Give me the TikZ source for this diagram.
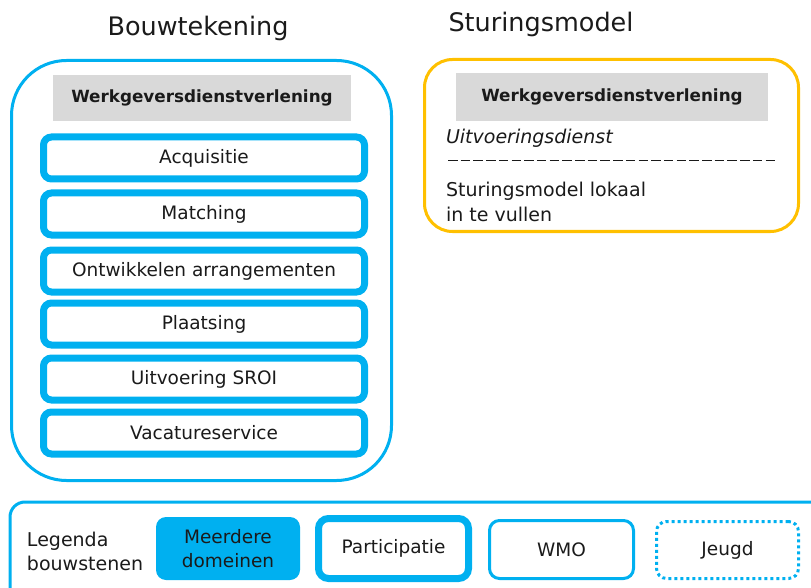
\documentclass[tikz,border=0pt]{standalone}
\usepackage{fontspec}
\setmainfont{DejaVu Sans}
\definecolor{cyanb}{HTML}{00B0F0}
\definecolor{orng}{HTML}{FFC000}
\definecolor{lgray}{HTML}{D9D9D9}
\definecolor{txt}{HTML}{1A1A1A}
\tikzset{
  every node/.style={text=txt, inner sep=0pt, outer sep=0pt},
  thickbox/.style={draw=cyanb, line width=7pt, rounded corners=8pt, minimum width=321pt, minimum height=42pt, font=\fontsize{18.5}{22}\selectfont},
  hdr/.style={fill=lgray, font=\bfseries\fontsize{16.8}{20}\selectfont},
  lbl/.style={font=\fontsize{18.5}{24}\selectfont, align=center},
}
\begin{document}
\begin{tikzpicture}[x=1pt,y=-1pt]
\useasboundingbox (0,0) rectangle (811,588);
\clip (0,0) rectangle (811,588);
% titles
\node[font=\fontsize{25.5}{30}\selectfont] (t1) at (198,28) {Bouwtekening};
\node[font=\fontsize{25.5}{30}\selectfont] (t2) at (541,24) {Sturingsmodel};
% left big box
\node[draw=cyanb, line width=3pt, rounded corners=55pt, minimum width=380pt, minimum height=420pt] (bouw) at (201.5,270.5) {};
\node[hdr, minimum width=298pt, minimum height=46pt] (h1) at (202,98) {Werkgeversdienstverlening};
\node[thickbox] (b1) at (204,158) {Acquisitie};
\node[thickbox] (b2) at (204,214) {Matching};
\node[thickbox] (b3) at (204,271) {Ontwikkelen arrangementen};
\node[thickbox] (b4) at (204,324) {Plaatsing};
\node[thickbox] (b5) at (204,379) {Uitvoering SROI};
\node[thickbox] (b6) at (204,433) {Vacatureservice};
% right box
\node[draw=orng, line width=3pt, rounded corners=28pt, minimum width=374pt, minimum height=172pt] (stur) at (611.5,145.5) {};
\node[hdr, minimum width=312pt, minimum height=48pt] (h2) at (612,97) {Werkgeversdienstverlening};
\node[anchor=west, font=\itshape\fontsize{19}{22}\selectfont] (ud) at (446,138) {Uitvoeringsdienst};
\coordinate (dl) at (448,160);
\coordinate (dr) at (778,160);
\draw[txt, line width=0.8pt, dash pattern=on 9.5pt off 3.2pt] (dl) -- (dr);
\node[anchor=west, align=left, font=\fontsize{19}{25}\selectfont] (sl) at (446,201.5) {Sturingsmodel lokaal\\in te vullen};
% legend
\node[draw=cyanb, line width=3pt, rounded corners=15pt, minimum width=820pt, minimum height=110pt, anchor=north west] (leg) at (10,502) {};
\node[anchor=west, align=left, font=\fontsize{19}{24}\selectfont] (ll) at (27,551) {Legenda\\bouwstenen};
\node[fill=cyanb, rounded corners=10pt, minimum width=144pt, minimum height=63pt, lbl] (md) at (228,548.5) {Meerdere\\domeinen};
\node[draw=cyanb, line width=7pt, rounded corners=10pt, minimum width=150pt, minimum height=60pt, lbl] (pa) at (393.5,548.5) {Participatie};
\node[draw=cyanb, line width=3pt, rounded corners=10pt, minimum width=144pt, minimum height=58pt, lbl] (wmo) at (561.5,549.5) {WMO};
\node[draw=cyanb, line width=3pt, rounded corners=10pt, minimum width=142pt, minimum height=57pt, lbl, dash pattern=on 3pt off 3pt] (jg) at (727.5,550) {Jeugd};
\end{tikzpicture}
\end{document}
